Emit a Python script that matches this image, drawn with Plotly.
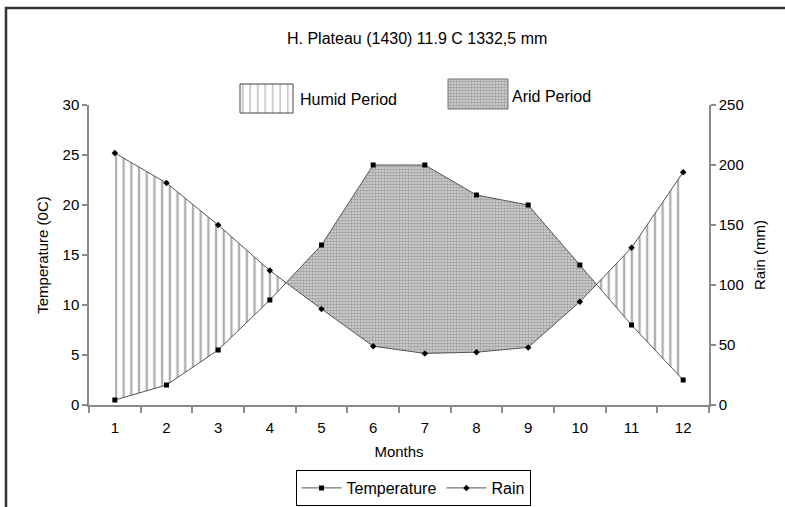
import plotly.graph_objects as go

# ---------------- data ----------------
months = list(range(1, 13))
temperature = [0.5, 2, 5.5, 10.5, 16, 24, 24, 21, 20, 14, 8, 2.5]
rain = [210, 185, 150, 112, 80, 49, 43, 44, 48, 86, 131, 194]
temp_ticks = [0, 5, 10, 15, 20, 25, 30]
rain_ticks = [0, 50, 100, 150, 200, 250]
TEMP_MAX = 30
RAIN_MAX = 250
title_text = "H. Plateau (1430) 11.9 C 1332,5 mm"

FONT = "Liberation Sans, Arial, sans-serif"

# rain expressed in temperature-axis units
rain_s = [r * TEMP_MAX / RAIN_MAX for r in rain]


def regions(sign):
    """Polygons where sign*(rain_s - temperature) > 0."""
    polys = []
    top, bot = [], []
    n = len(months)
    for i in range(n):
        d = rain_s[i] - temperature[i]
        inside = sign * d > 0
        if inside:
            top.append((months[i], rain_s[i]))
            bot.append((months[i], temperature[i]))
        if i < n - 1:
            d2 = rain_s[i + 1] - temperature[i + 1]
            if (d > 0) != (d2 > 0):
                t = d / (d - d2)
                xc = months[i] + t
                yc = temperature[i] + t * (temperature[i + 1] - temperature[i])
                if inside:
                    top.append((xc, yc))
                    bot.append((xc, yc))
                    polys.append((top, bot))
                    top, bot = [], []
                else:
                    top = [(xc, yc)]
                    bot = [(xc, yc)]
    if top:
        polys.append((top, bot))
    out = []
    for top, bot in polys:
        xs = [p[0] for p in top] + [p[0] for p in reversed(bot)]
        ys = [p[1] for p in top] + [p[1] for p in reversed(bot)]
        out.append((xs, ys))
    return out


fig = go.Figure()

humid_pattern = dict(shape="|", fgcolor="#5e5e5e", bgcolor="white", size=7.7, solidity=0.3)
arid_pattern = dict(shape=".", fgcolor="#6a6a6a", bgcolor="#d8d8d8", size=3, solidity=0.6)

for xs, ys in regions(+1):
    fig.add_trace(go.Scatter(x=xs, y=ys, mode="none", fill="toself", fillcolor="white",
                             fillpattern=humid_pattern, showlegend=False, hoverinfo="skip"))
for xs, ys in regions(-1):
    fig.add_trace(go.Scatter(x=xs, y=ys, mode="none", fill="toself", fillcolor="white",
                             fillpattern=arid_pattern, showlegend=False, hoverinfo="skip"))

fig.add_trace(go.Scatter(x=months, y=temperature, name="Temperature", mode="lines+markers",
                         line=dict(color="#555555", width=1),
                         marker=dict(symbol="square", size=5, color="black")))
fig.add_trace(go.Scatter(x=months, y=rain, name="Rain", mode="lines+markers", yaxis="y2",
                         line=dict(color="#555555", width=1),
                         marker=dict(symbol="diamond", size=5, color="black")))

# top "period" key swatches drawn on a pixel-coordinate overlay axis
fig.add_trace(go.Scatter(x=[240, 293, 293, 240, 240], y=[84, 84, 113, 113, 84], xaxis="x3", yaxis="y3",
                         mode="lines", line=dict(color="#444444", width=1), fill="toself",
                         fillcolor="white", fillpattern=dict(shape="|", fgcolor="#555555", bgcolor="white",
                                                             size=7.5, solidity=0.15),
                         showlegend=False, hoverinfo="skip"))
fig.add_trace(go.Scatter(x=[448, 508, 508, 448, 448], y=[79, 79, 109, 109, 79], xaxis="x3", yaxis="y3",
                         mode="lines", line=dict(color="#777777", width=1), fill="toself",
                         fillcolor="white", fillpattern=arid_pattern,
                         showlegend=False, hoverinfo="skip"))

W, H = 785, 507
L, R, T, B = 89, 76, 8, 102
plot_h = H - T - B  # paper height in px
main_top = (405 - 105) / plot_h

axis_common = dict(showline=True, linecolor="#8a8a8a", linewidth=1.5, ticks="outside",
                   ticklen=5, tickcolor="#8a8a8a", tickwidth=1.5, showgrid=False, zeroline=False,
                   tickfont=dict(family=FONT, size=15, color="black"))

fig.update_layout(
    width=W, height=H,
    margin=dict(l=L, r=R, t=T, b=B, autoexpand=False),
    paper_bgcolor="white", plot_bgcolor="rgba(0,0,0,0)",
    font=dict(family=FONT, size=15, color="black"),
    xaxis=dict(range=[0.5, 12.5], domain=[0, 1], tickvals=months, ticktext=[str(m) for m in months],
               showline=True, linecolor="#8a8a8a", linewidth=1.5, ticks="", showgrid=False,
               zeroline=False, tickfont=dict(family=FONT, size=15, color="black"),
               ticklabelstandoff=8,
               minor=dict(ticks="outside", tick0=0.5, dtick=1, ticklen=6, tickcolor="#8a8a8a",
                          tickwidth=1.5, showgrid=False),
               title=dict(text="Months", font=dict(family=FONT, size=15), standoff=12)),
    yaxis=dict(range=[0, TEMP_MAX], domain=[0, main_top], tickvals=temp_ticks, **axis_common,
               title=dict(text="Temperature (0C)", font=dict(family=FONT, size=15), standoff=10)),
    yaxis2=dict(range=[0, RAIN_MAX], domain=[0, main_top], overlaying="y", side="right",
                tickvals=rain_ticks, **axis_common,
                title=dict(text="Rain (mm)", font=dict(family=FONT, size=15), standoff=12)),
    xaxis3=dict(range=[L, W - R], domain=[0, 1], visible=False, anchor="y3", fixedrange=True),
    yaxis3=dict(range=[405, T], domain=[0, 1], visible=False, anchor="x3", fixedrange=True),
    legend=dict(orientation="h", x=(413 - L) / (W - L - R), xanchor="center",
                y=(405 - 470) / plot_h, yanchor="top", bordercolor="black", borderwidth=1,
                bgcolor="white", font=dict(family=FONT, size=16), itemwidth=40,
                tracegroupgap=0),
    annotations=[
        dict(text=title_text, x=417, y=38, xref="x3", yref="y3", showarrow=False,
             font=dict(family=FONT, size=16), xanchor="center", yanchor="middle"),
        dict(text="Humid Period", x=298, y=99, xref="x3", yref="y3", showarrow=False,
             font=dict(family=FONT, size=16), xanchor="left", yanchor="middle"),
        dict(text="Arid Period", x=510, y=96, xref="x3", yref="y3", showarrow=False,
             font=dict(family=FONT, size=16), xanchor="left", yanchor="middle"),
    ],
    shapes=[dict(type="rect", xref="paper", yref="paper",
                 x0=(6 - L) / (W - L - R), x1=(W + 60 - L) / (W - L - R),
                 y0=(405 - H - 40) / plot_h, y1=1.0,
                 line=dict(color="#333333", width=2.5), fillcolor="rgba(0,0,0,0)", layer="below")],
)

fig.write_html("out.html")
